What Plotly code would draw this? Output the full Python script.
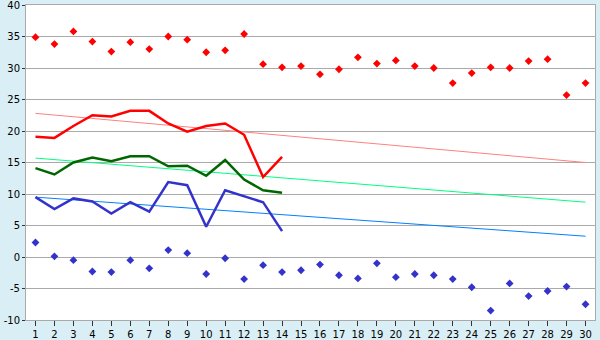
import plotly.graph_objects as go

days = list(range(1, 31))
max_temp = [34.9, 33.8, 35.8, 34.2, 32.6, 34.1, 33.0, 35.0, 34.5, 32.5,
            32.8, 35.4, 30.6, 30.1, 30.3, 29.0, 29.8, 31.7, 30.7, 31.2,
            30.3, 30.0, 27.6, 29.2, 30.1, 30.0, 31.1, 31.4, 25.7, 27.6]
min_temp = [2.3, 0.1, -0.5, -2.3, -2.4, -0.5, -1.8, 1.1, 0.6, -2.7,
            -0.2, -3.5, -1.3, -2.4, -2.1, -1.2, -2.9, -3.4, -1.0, -3.2,
            -2.7, -2.9, -3.5, -4.8, -8.5, -4.2, -6.2, -5.4, -4.7, -7.5]
line_days = list(range(1, 15))
red_line = [19.1, 18.9, 20.8, 22.5, 22.3, 23.2, 23.2, 21.2, 19.9, 20.8, 21.2, 19.4, 12.7, 15.9]
green_line = [14.1, 13.1, 15.0, 15.8, 15.2, 16.0, 16.0, 14.4, 14.5, 12.9, 15.4, 12.3, 10.6, 10.2]
blue_line = [9.5, 7.6, 9.3, 8.8, 6.9, 8.7, 7.2, 11.9, 11.4, 4.8, 10.6, 9.6, 8.7, 4.1]
trend_days = [1, 30]
red_trend = [22.8, 15.0]
green_trend = [15.7, 8.7]
blue_trend = [9.5, 3.3]
y_ticks = [-10, -5, 0, 5, 10, 15, 20, 25, 30, 35, 40]

fig = go.Figure()
fig.add_trace(go.Scatter(x=trend_days, y=red_trend, mode="lines", line=dict(color="#FF8080", width=1)))
fig.add_trace(go.Scatter(x=trend_days, y=green_trend, mode="lines", line=dict(color="#00FF80", width=1)))
fig.add_trace(go.Scatter(x=trend_days, y=blue_trend, mode="lines", line=dict(color="#0080FF", width=1)))
fig.add_trace(go.Scatter(x=line_days, y=red_line, mode="lines", line=dict(color="#FF0000", width=2.5)))
fig.add_trace(go.Scatter(x=line_days, y=green_line, mode="lines", line=dict(color="#006600", width=2.5)))
fig.add_trace(go.Scatter(x=line_days, y=blue_line, mode="lines", line=dict(color="#3333CC", width=2.5)))
fig.add_trace(go.Scatter(x=days, y=max_temp, mode="markers",
                         marker=dict(symbol="diamond", size=6, color="#FF0000")))
fig.add_trace(go.Scatter(x=days, y=min_temp, mode="markers",
                         marker=dict(symbol="diamond", size=6, color="#3333CC")))

fig.update_layout(
    width=600, height=340,
    margin=dict(l=26, r=5, t=5, b=20),
    paper_bgcolor="#D9EFF5", plot_bgcolor="#FFFFFF",
    showlegend=False,
    font=dict(family="DejaVu Sans", size=10, color="#000000"),
)
fig.update_xaxes(range=[0.5, 30.5], tickmode="array", tickvals=days, ticktext=[str(d) for d in days],
                 showgrid=False, zeroline=False, showline=True, mirror=True, linecolor="#AAAAAA",
                 ticks="outside", ticklen=5, tickcolor="#333333",
                 automargin=False, ticklabeloverflow="allow")
fig.update_yaxes(range=[-10, 40], tickmode="array", tickvals=y_ticks, ticktext=[str(v) for v in y_ticks],
                 showgrid=True, gridcolor="#AAAAAA", zeroline=False,
                 showline=True, mirror=True, linecolor="#AAAAAA",
                 ticks="outside", ticklen=3, tickcolor="#333333", automargin=False,
                 ticklabeloverflow="allow")

fig.write_html("out.html")
